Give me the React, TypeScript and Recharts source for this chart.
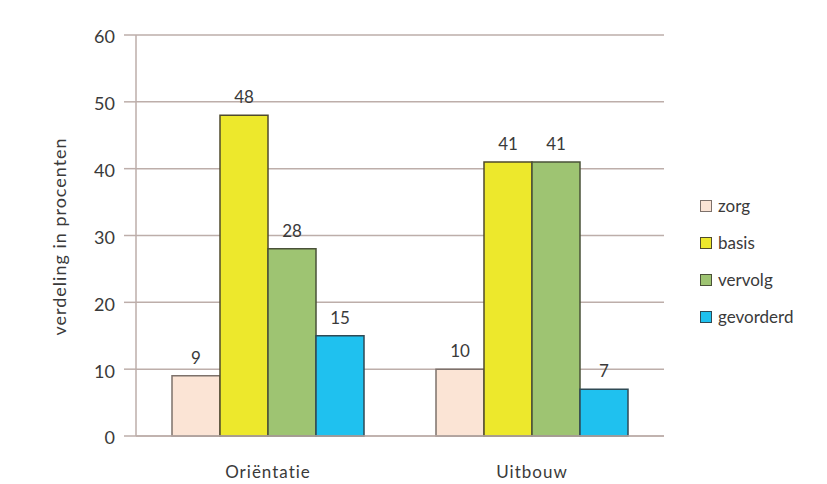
import React from 'react';
import { BarChart, Bar, XAxis, YAxis, CartesianGrid, LabelList } from 'recharts';

const categories = ['Oriëntatie', 'Uitbouw'];
const zorg = [9, 10];
const basis = [48, 41];
const vervolg = [28, 41];
const gevorderd = [15, 7];
const yTicks = [0, 10, 20, 30, 40, 50, 60];

const series = [
  { key: 'zorg', fill: '#fbe4d5', stroke: '#7d716b' },
  { key: 'basis', fill: '#ede82c', stroke: '#4f4a2c' },
  { key: 'vervolg', fill: '#9ec472', stroke: '#4a5138' },
  { key: 'gevorderd', fill: '#1fc1ef', stroke: '#2f4a55' }
];

const data = categories.map((name, i) => ({
  name,
  zorg: zorg[i],
  basis: basis[i],
  vervolg: vervolg[i],
  gevorderd: gevorderd[i]
}));

const font = 'Lato, "Open Sans", sans-serif';
const textColor = '#3a3a3a';

const LegendBox = () => (
  <div
    style={{
      position: 'absolute',
      left: 700,
      top: 187,
      fontFamily: font,
      fontSize: 17,
      color: textColor
    }}
  >
    {series.map((s) => (
      <div key={s.key} style={{ display: 'flex', alignItems: 'center', height: 37 }}>
        <span
          style={{
            display: 'inline-block',
            width: 10,
            height: 10,
            background: s.fill,
            border: `1.5px solid ${s.stroke}`,
            marginRight: 6
          }}
        />
        {s.key}
      </div>
    ))}
  </div>
);

export default function App() {
  return (
    <div style={{ position: 'absolute', left: 0, top: 0, width: 827, height: 484, background: '#fff' }}>
      <BarChart
        width={827}
        height={484}
        data={data}
        margin={{ top: 35, right: 163, bottom: 0, left: 76 }}
        barCategoryGap={36}
        barGap={0}
      >
        <CartesianGrid vertical={false} stroke="#bdaeaa" strokeWidth={1.5} />
        <XAxis
          dataKey="name"
          height={48}
          axisLine={{ stroke: '#bdaeaa', strokeWidth: 1.5 }}
          tickLine={false}
          tick={{ fill: textColor, fontSize: 17, fontFamily: font, letterSpacing: 1, dy: 22 }}
        />
        <YAxis
          width={60}
          domain={[0, 60]}
          ticks={yTicks}
          axisLine={{ stroke: '#bdaeaa', strokeWidth: 1.5 }}
          tickLine={{ stroke: '#bdaeaa', strokeWidth: 1.5 }}
          tickSize={12}
          tickMargin={9}
          tick={{ fill: textColor, fontSize: 18, fontFamily: font, dy: 2 }}
          label={{
            value: 'verdeling in procenten',
            angle: -90,
            position: 'insideLeft',
            dx: -21,
            dy: 100,
            style: { fill: textColor, fontSize: 18, letterSpacing: 1, fontFamily: font }
          }}
        />
        {series.map((s) => (
          <Bar
            key={s.key}
            dataKey={s.key}
            fill={s.fill}
            stroke={s.stroke}
            strokeWidth={1.5}
            isAnimationActive={false}
          >
            <LabelList
              dataKey={s.key}
              position="top"
              offset={12}
              style={{ fill: textColor, fontSize: 17, fontFamily: font }}
            />
          </Bar>
        ))}
      </BarChart>
      <LegendBox />
    </div>
  );
}
